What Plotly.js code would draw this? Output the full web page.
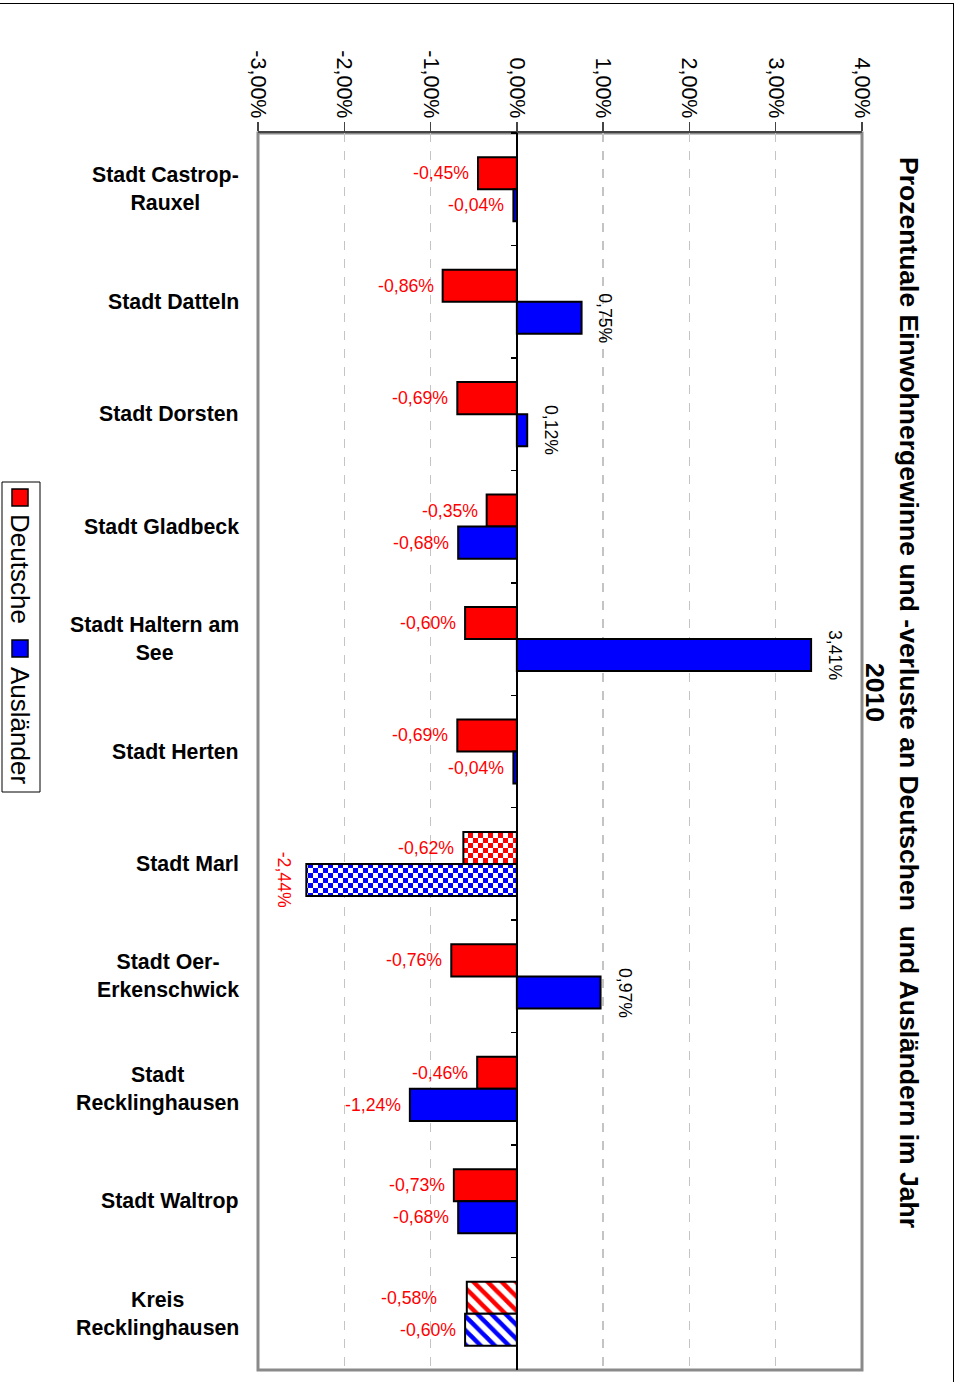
<!DOCTYPE html>
<html>
<head>
<meta charset="utf-8">
<script src="https://cdn.plot.ly/plotly-3.0.1.min.js"></script>
<style>
  html, body { margin: 0; padding: 0; background: #fff; }
  #wrap { position: relative; width: 955px; height: 1382px; overflow: hidden; }
  #chart { width: 955px; height: 1382px; }
  #frame { position: absolute; left: 0; top: 3px; width: 953px; height: 1400px;
           border-top: 1px solid #000; border-right: 1px solid #000; pointer-events: none; }
</style>
</head>
<body>
<div id="wrap"><div id="chart"></div><div id="frame"></div></div>
<script>
// ---- data ----
const categories = [
  'Stadt Castrop-<br>Rauxel', 'Stadt Datteln', 'Stadt Dorsten', 'Stadt Gladbeck',
  'Stadt Haltern am<br>See', 'Stadt Herten', 'Stadt Marl', 'Stadt Oer-<br>Erkenschwick',
  'Stadt<br>Recklinghausen', 'Stadt Waltrop', 'Kreis<br>Recklinghausen'
];
const deutsche   = [-0.45, -0.86, -0.69, -0.35, -0.60, -0.69, -0.62, -0.76, -0.46, -0.73, -0.58];
const auslaender = [-0.04,  0.75,  0.12, -0.68,  3.41, -0.04, -2.44,  0.97, -1.24, -0.68, -0.60];
const tickVals = [-3, -2, -1, 0, 1, 2, 3, 4];
const tickText = ['-3,00%', '-2,00%', '-1,00%', '0,00%', '1,00%', '2,00%', '3,00%', '4,00%'];
const patternShapes = ['', '', '', '', '', '', '.', '', '', '', '\\'];
const seriesNames = ['Deutsche', 'Ausländer'];
const titleText = 'Prozentuale Einwohnergewinne und -verluste an Deutschen\u00a0 und Ausländern im Jahr<br>2010';

// ---- layout helpers ----
const L = 258, T = 133, W = 604, H = 1237;
const xp = px => (px - L) / W;
const yp = py => 1 - (py - T) / H;
const RED = '#ff0000', BLUE = '#0000ff';
const FONT = 'Liberation Sans, Arial, sans-serif';

function mkTrace(vals, name, color) {
  return {
    type: 'bar', orientation: 'h', name: name,
    y: categories, x: vals,
    marker: {
      color: color,
      line: { color: '#000', width: 2 },
      pattern: { shape: patternShapes, fgcolor: color, bgcolor: '#ffffff', size: 10, solidity: 0.45 }
    },
    hoverinfo: 'skip', showlegend: false
  };
}
const data = [mkTrace(deutsche, seriesNames[0], RED), mkTrace(auslaender, seriesNames[1], BLUE)];

const bargap = 0.43;
const half = (1 - bargap) / 4; // center offset of each bar within group
const fmt = v => v.toFixed(2).replace('.', ',') + '%';

const annotations = [];
// category labels
categories.forEach((c, i) => {
  annotations.push({
    xref: 'paper', yref: 'y', x: xp(241), y: i, xanchor: 'right', yanchor: 'middle',
    text: c, showarrow: false, align: 'center',
    font: { family: FONT, size: 21.3, color: '#000', weight: 'bold' }
  });
});
// value labels
[deutsche, auslaender].forEach((arr, s) => {
  arr.forEach((v, i) => {
    const yy = i + (s === 0 ? -half : half);
    const rotated = v > 0 || v < -2;
    const ann = {
      xref: 'x', yref: 'y', x: v, y: yy, showarrow: false, yanchor: 'middle',
      text: fmt(v), textangle: rotated ? 90 : 0,
      font: { family: FONT, size: 17.7, color: v < 0 ? RED : '#000' }
    };
    if (v < 0) { ann.xanchor = 'right'; ann.xshift = rotated ? -10 : -7; }
    else { ann.xanchor = 'left'; ann.xshift = 12; }
    // the hatched Deutsche bar of the last group has its label set further out in the original
    if (s === 0 && patternShapes[i] === '\\') ann.xshift = -28;
    annotations.push(ann);
  });
});
// title
annotations.push({
  xref: 'paper', yref: 'paper', x: xp(892), y: yp(692), xanchor: 'center', yanchor: 'middle',
  text: titleText, textangle: 90, showarrow: false, align: 'center',
  font: { family: FONT, size: 26.5, color: '#000', weight: 'bold' }
});
// legend texts
annotations.push({
  xref: 'paper', yref: 'paper', x: xp(20), y: yp(569), xanchor: 'center', yanchor: 'middle',
  text: seriesNames[0], textangle: 90, showarrow: false,
  font: { family: FONT, size: 26, color: '#000' }
});
annotations.push({
  xref: 'paper', yref: 'paper', x: xp(20), y: yp(725), xanchor: 'center', yanchor: 'middle',
  text: seriesNames[1], textangle: 90, showarrow: false,
  font: { family: FONT, size: 26, color: '#000' }
});

const shapes = [
  // plot frame
  { type: 'rect', xref: 'paper', yref: 'paper', x0: 0, x1: 1, y0: 0, y1: 1,
    line: { color: '#8a8a8a', width: 3 }, layer: 'below' },
  // legend box
  { type: 'rect', xref: 'paper', yref: 'paper', x0: xp(2), x1: xp(40), y0: yp(482), y1: yp(792),
    line: { color: '#000', width: 1 } },
  { type: 'rect', xref: 'paper', yref: 'paper', x0: xp(12), x1: xp(28), y0: yp(489), y1: yp(506),
    line: { color: '#000', width: 1.5 }, fillcolor: RED },
  { type: 'rect', xref: 'paper', yref: 'paper', x0: xp(12), x1: xp(28), y0: yp(640), y1: yp(657),
    line: { color: '#000', width: 1.5 }, fillcolor: BLUE }
];

const layout = {
  width: 955, height: 1382,
  margin: { l: L, r: 955 - L - W, t: T, b: 1382 - T - H, pad: 0 },
  paper_bgcolor: '#fff', plot_bgcolor: '#fff',
  barmode: 'group', bargap: bargap, bargroupgap: 0,
  font: { family: FONT, color: '#000' },
  xaxis: {
    side: 'top', range: [-3, 4], tickvals: tickVals, ticktext: tickText, tickangle: 90,
    tickfont: { family: FONT, size: 21.5, color: '#000' },
    ticklabelstandoff: -4,
    showline: true, linecolor: '#444', linewidth: 2,
    ticks: 'outside', ticklen: 9, tickwidth: 1.5, tickcolor: '#444',
    showgrid: true, gridcolor: '#c4c4c4', griddash: 'dash', gridwidth: 1.5,
    zeroline: true, zerolinecolor: '#000', zerolinewidth: 1.5,
    fixedrange: true
  },
  yaxis: {
    type: 'category', autorange: 'reversed',
    anchor: 'free', position: 3 / 7,
    showline: true, linecolor: '#000', linewidth: 1.5,
    ticks: 'outside', tickson: 'boundaries', ticklen: 6, tickcolor: '#000', tickwidth: 1.5,
    showticklabels: false, showgrid: false, zeroline: false, fixedrange: true
  },
  annotations: annotations,
  shapes: shapes,
  showlegend: false
};

Plotly.newPlot('chart', data, layout, { staticPlot: true, displayModeBar: false }).then(() => {
  // turn the dot pattern into a checkerboard
  document.querySelectorAll('pattern').forEach(p => {
    const c = p.querySelector('circle');
    if (!c) return;
    const fg = c.style.fill || c.getAttribute('fill') || '#000';
    const s = parseFloat(p.getAttribute('width')) || 10;
    const h = s / 2;
    while (p.firstChild) p.removeChild(p.firstChild);
    const NS = 'http://www.w3.org/2000/svg';
    const mk = (x, y, w, hh, col) => {
      const r = document.createElementNS(NS, 'rect');
      r.setAttribute('x', x); r.setAttribute('y', y);
      r.setAttribute('width', w); r.setAttribute('height', hh);
      r.setAttribute('fill', col);
      p.appendChild(r);
    };
    mk(0, 0, s, s, '#ffffff');
    mk(0, 0, h, h, fg);
    mk(h, h, h, h, fg);
  });
});
</script>
</body>
</html>
